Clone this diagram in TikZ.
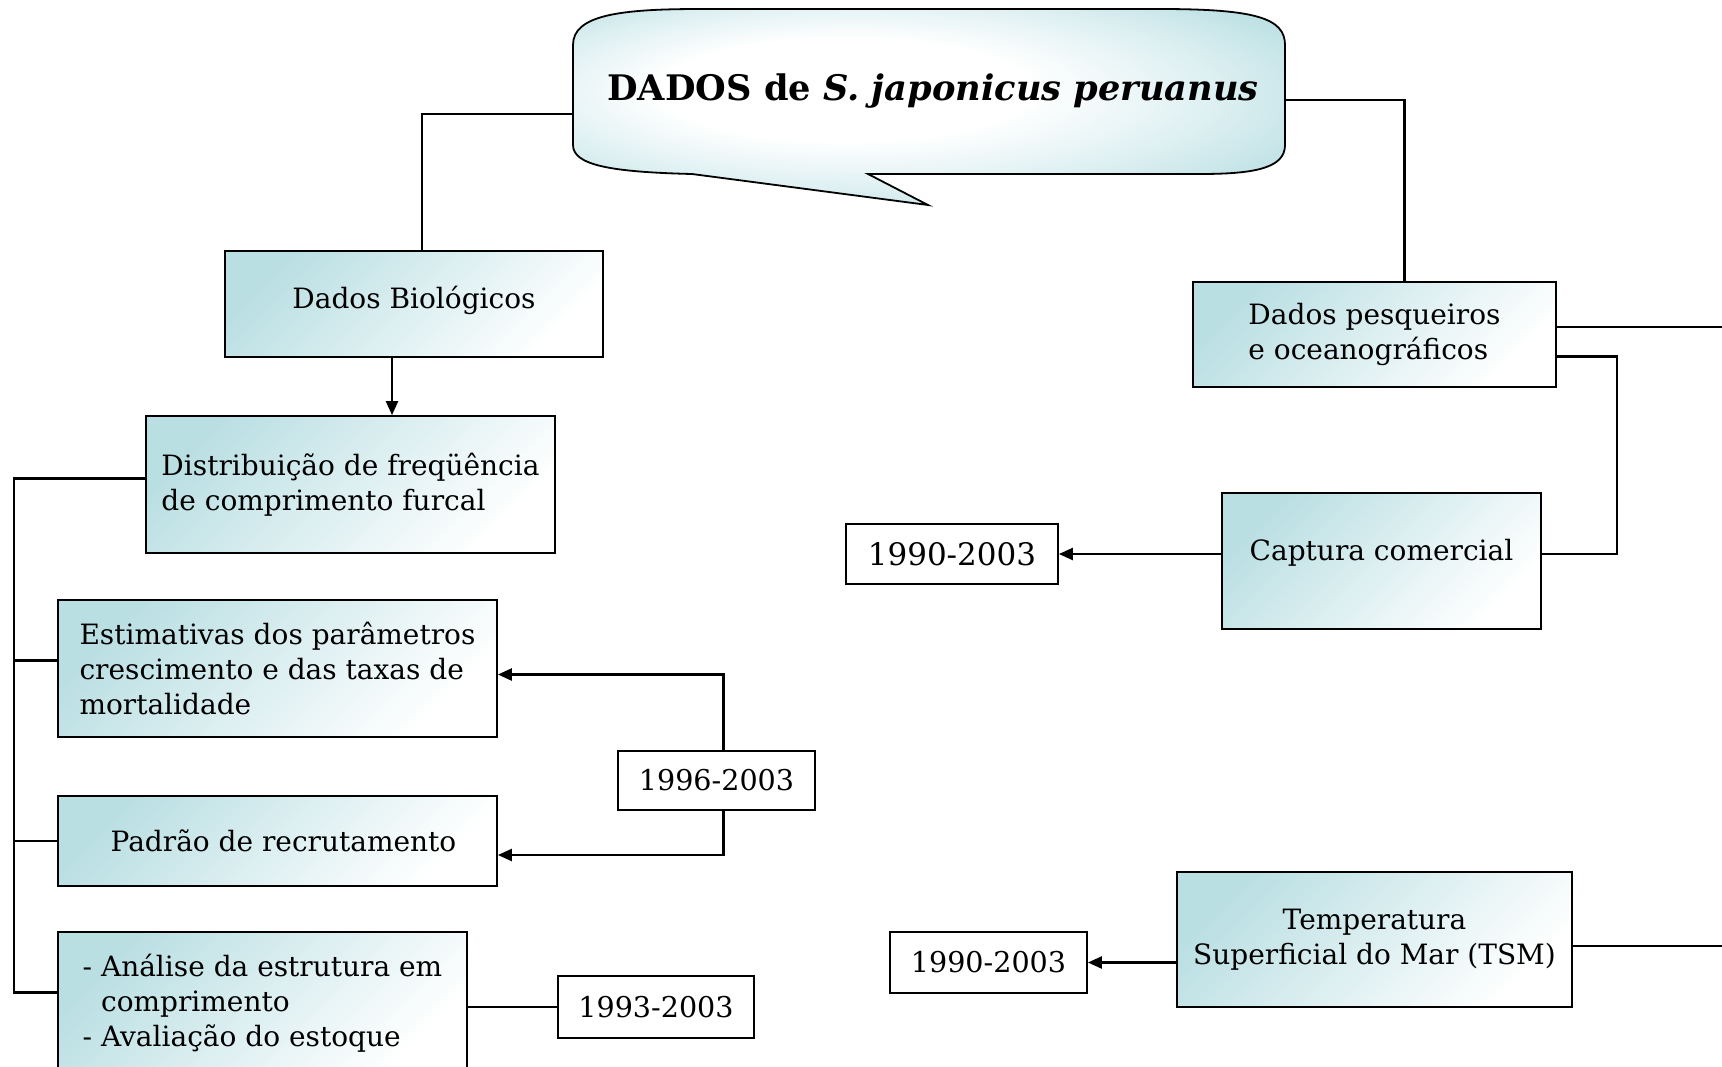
\documentclass[tikz,border=0pt]{standalone}
\usepackage{fontspec}
\setmainfont{DejaVu Serif}
\usetikzlibrary{arrows.meta}
\definecolor{boxteal}{RGB}{186,223,227}
\definecolor{lightteal}{RGB}{222,240,242}
\pgfdeclareradialshading{calloutshade}{\pgfpoint{-8bp}{6bp}}{color(0bp)=(white); color(13bp)=(white); color(24bp)=(lightteal); color(34bp)=(boxteal); color(50bp)=(boxteal)}
\tikzset{
	box/.style={draw=black,line width=.9pt,top color=boxteal,bottom color=white,shading angle=45,align=left,font=\fontsize{14}{17.5}\selectfont},
	yearbox/.style={draw=black,line width=.9pt,fill=white,font=\fontsize{14.3}{18}\selectfont},
	callout/.style={draw=black,line width=.9pt,shading=calloutshade},
	edge/.style={draw,black,line width=1.2pt},
	aedge/.style={draw,black,line width=1.2pt,-{Triangle[length=7pt,width=6pt]}}
}

\begin{document}
\begin{tikzpicture}[x=0.5pt,y=-0.5pt]

\useasboundingbox (0,0) rectangle (1722,1066);

\coordinate (cl) at (573,114);
\coordinate (cr) at (1285,100);
\coordinate (bus) at (14,0);
\coordinate (kx) at (1617,0);
\coordinate (pr) at (1722,327);
\coordinate (tr) at (1722,946);

% balao do titulo
\path[callout] (573,45) .. controls (573,15) and (620,9) .. (700,9) -- (1160,9)
  .. controls (1255,9) and (1285,18) .. (1285,45) -- (1285,145)
  .. controls (1285,168) and (1255,174) .. (1200,174) -- (868,174) -- (928,205)
  -- (692,174) .. controls (610,172) and (573,165) .. (573,145) -- cycle;
\node (title) at (933,91) {\fontsize{17.6}{20}\selectfont\bfseries DADOS de \textit{S. japonicus peruanus}};

% lado biologico
\node[box,minimum width=189pt,minimum height=53pt] (bio) at (414,304) {\raisebox{1.8pt}[\height][\depth]{Dados Biológicos}};
\node[box,minimum width=204.5pt,minimum height=68.5pt] (dist) at (350.5,484.5) {Distribuição de freqüência\\de comprimento furcal};
\node[box,minimum width=219.5pt,minimum height=68.5pt] (est) at (277.5,668.5) {Estimativas dos parâmetros\\crescimento e das taxas de\\mortalidade};
\node[box,minimum width=219.5pt,minimum height=45pt] (pad) at (277.5,841) {\hspace{6pt}Padrão de recrutamento};
\node[box,minimum width=204.5pt,minimum height=71.5pt] (ana) at (262.5,1003.5) {- Análise da estrutura em\\\hphantom{- }comprimento\\- Avaliação do estoque};
\node[yearbox,minimum width=98.5pt,minimum height=29.5pt] (y96) at (716.5,780.5) {1996-2003};
\node[yearbox,minimum width=98pt,minimum height=31pt] (y93) at (656,1007) {1993-2003};

% lado pesqueiro
\node[box,minimum width=181.5pt,minimum height=52.5pt] (pesq) at (1374.5,334.5) {Dados pesqueiros\\e oceanográficos};
\node[box,minimum width=159.5pt,minimum height=68pt] (capt) at (1381.5,561) {\raisebox{4pt}[\height][\depth]{Captura comercial}};
\node[yearbox,font=\fontsize{15.5}{18}\selectfont,minimum width=106pt,minimum height=30pt] (y90a) at (952,554) {1990-2003};
\node[box,align=center,minimum width=197.5pt,minimum height=67.5pt] (tsm) at (1374.5,939.5) {Temperatura\\Superficial do Mar (TSM)};
\node[yearbox,minimum width=98.5pt,minimum height=30.5pt] (y90b) at (988.5,962.5) {1990-2003};

\draw[edge] (cl) -| ([xshift=4pt]bio.north);
\draw[edge] (cr) -| ([xshift=15pt]pesq.north);
\draw[aedge] ([xshift=-11pt]bio.south) -- ([xshift=-11pt]bio.south |- dist.north);

\draw[edge] ([yshift=3pt]dist.west) -- ([yshift=3pt]dist.west -| bus) |- ([yshift=5.5pt]ana.west);
\draw[edge] ([yshift=4pt]est.west) -- ([yshift=4pt]est.west -| bus);
\draw[edge] (pad.west) -- (pad.west -| bus);
\draw[aedge] ([xshift=3.5pt]y96.north) |- ([yshift=-3pt]est.east);
\draw[aedge] ([xshift=3.5pt]y96.south) |- ([yshift=-7pt]pad.east);
\draw[edge] (y93.west) -- (y93.west -| ana.east);

\draw[edge] (pesq.east |- pr) -- (pr);
\draw[edge] ([yshift=-11pt]pesq.east) -| (kx |- y90a.east) -- (capt.east |- y90a.east);
\draw[aedge] (y90a.east -| capt.west) -- (y90a.east);
\draw[edge] (tsm.east |- tr) -- (tr);
\draw[aedge] (y90b.east -| tsm.west) -- (y90b.east);

\end{tikzpicture}
\end{document}
